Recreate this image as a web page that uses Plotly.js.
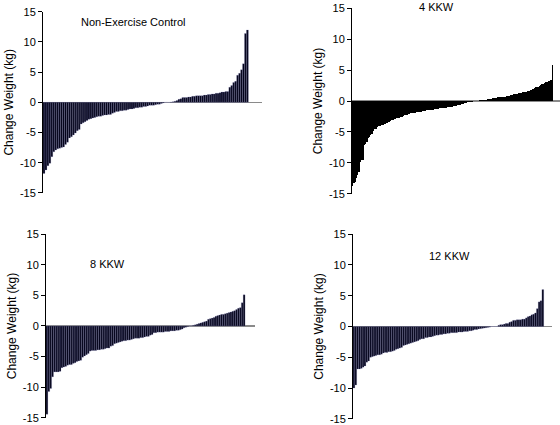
<!DOCTYPE html>
<html>
<head>
<meta charset="utf-8">
<script src="https://cdn.plot.ly/plotly-3.0.1.min.js"></script>
<style>html,body{margin:0;padding:0;background:#fff}#chart{width:560px;height:425px}</style>
</head>
<body>
<div id="chart"></div>
<script>
// Panel titles
const panelTitles = ["Non-Exercise Control", "4 KKW", "8 KKW", "12 KKW"];
const yAxisTitle = "Change Weight (kg)";
const yTickVals = [-15, -10, -5, 0, 5, 10, 15];
const yTickText = ["-15", "-10", "-5", "0", "5", "10", "15"];

// Individual weight change (kg), sorted, per group
const controlChange = [
  -11.8, -11.2, -10.5, -10.1, -9.0, -8.2, -7.9, -7.7, -7.6, -7.5, -7.4, -7.0, -6.6, -5.9, -5.7,
  -5.4, -5.1, -4.7, -4.5, -3.6, -3.4, -3.2, -3.0, -2.8, -2.7, -2.6, -2.5, -2.4, -2.3, -2.3,
  -2.2, -2.1, -2.1, -2.0, -2.0, -1.8, -1.7, -1.5, -1.5, -1.4, -1.4, -1.3, -1.3, -1.2, -1.1,
  -1.1, -1.0, -0.9, -0.9, -0.8, -0.8, -0.7, -0.7, -0.6, -0.5, -0.5, -0.5, -0.4, -0.3, -0.3,
  -0.2, -0.1, 0, 0, 0, 0.05, 0.1, 0.2, 0.3, 0.5, 0.6, 0.8, 0.8, 0.8, 0.9, 0.9, 1.0, 1.0,
  1.1, 1.1, 1.1, 1.1, 1.2, 1.2, 1.3, 1.3, 1.4, 1.4, 1.5, 1.5, 1.6, 1.7, 1.7, 1.8, 1.8,
  2.5, 2.8, 3.3, 3.5, 4.5, 4.8, 5.4, 6.4, 11.4, 12.0
];
const kkw4Change = [
  -13.8, -13.3, -13.0, -12.4, -12.0, -11.4, -9.8, -9.6, -9.5, -7.1, -6.9, -6.6, -6.0, -5.8,
  -5.5, -5.3, -4.8, -4.6, -4.5, -4.2, -4.1, -4.0, -3.9, -3.9, -3.8, -3.7, -3.6, -3.5, -3.4,
  -3.3, -3.1, -3.0, -2.9, -2.9, -2.8, -2.8, -2.7, -2.6, -2.6, -2.5, -2.3, -2.2, -2.2, -2.1,
  -2.1, -2.0, -2.0, -2.0, -1.9, -1.8, -1.8, -1.7, -1.7, -1.7, -1.6, -1.6, -1.6, -1.5, -1.5,
  -1.5, -1.4, -1.4, -1.4, -1.3, -1.3, -1.3, -1.3, -1.2, -1.2, -1.2, -1.2, -1.1, -1.1, -1.0,
  -1.0, -0.9, -0.9, -0.9, -0.8, -0.8, -0.8, -0.7, -0.7, -0.6, -0.5, -0.5, -0.4, -0.4, -0.3,
  -0.2, -0.2, -0.1, -0.1, 0, 0, 0, 0, 0, 0.1, 0.1, 0.2, 0.2, 0.2, 0.2, 0.3, 0.3, 0.3, 0.4,
  0.5, 0.5, 0.5, 0.5, 0.6, 0.6, 0.6, 0.6, 0.7, 0.7, 0.7, 0.8, 0.8, 0.8, 0.9, 1.0, 1.1, 1.2,
  1.2, 1.2, 1.3, 1.3, 1.3, 1.4, 1.4, 1.5, 1.5, 1.6, 1.6, 1.7, 1.8, 1.9, 2.1, 2.2, 2.3, 2.3,
  2.5, 2.6, 2.7, 2.8, 2.9, 3.0, 3.1, 3.2, 3.3, 3.4, 5.8
];
const kkw8Change = [
  -14.4, -10.7, -10.2, -8.3, -7.5, -7.5, -7.5, -7.4, -6.8, -6.7, -6.6, -6.4, -6.3, -6.3,
  -6.1, -6.0, -5.8, -5.7, -5.6, -5.1, -4.9, -4.7, -4.5, -4.1, -4.0, -4.0, -4.0, -3.9, -3.9,
  -3.8, -3.8, -3.7, -3.6, -3.6, -3.3, -3.2, -2.9, -2.8, -2.7, -2.6, -2.5, -2.4, -2.4, -2.3,
  -2.3, -2.2, -2.1, -2.0, -2.0, -2.0, -1.9, -1.9, -1.8, -1.7, -1.7, -1.5, -1.4, -1.1, -1.1,
  -1.0, -1.0, -1.0, -1.0, -0.9, -0.9, -0.9, -0.8, -0.8, -0.8, -0.7, -0.7, -0.6, -0.5, -0.3,
  -0.2, -0.1, 0, 0, 0.1, 0.2, 0.3, 0.4, 0.5, 0.6, 0.7, 0.8, 1.1, 1.2, 1.3, 1.4, 1.6, 1.7,
  1.8, 1.9, 1.9, 2.0, 2.1, 2.2, 2.3, 2.4, 2.5, 2.7, 2.9, 3.0, 3.8, 5.1
];
const kkw12Change = [
  -10.0, -9.5, -6.9, -6.9, -6.8, -6.6, -6.4, -5.8, -5.6, -5.0, -4.9, -4.8, -4.7, -4.6, -4.6,
  -4.5, -4.3, -4.2, -4.2, -4.1, -4.1, -4.0, -3.9, -3.7, -3.6, -3.5, -3.4, -3.1, -3.0, -2.9,
  -2.8, -2.7, -2.6, -2.5, -2.4, -2.3, -2.1, -2.0, -2.0, -1.8, -1.8, -1.7, -1.7, -1.6, -1.5,
  -1.4, -1.4, -1.3, -1.3, -1.2, -1.2, -1.1, -1.1, -1.0, -1.0, -1.0, -1.0, -0.9, -0.9, -0.9,
  -0.8, -0.8, -0.8, -0.7, -0.7, -0.6, -0.5, -0.5, -0.4, -0.35, -0.3, -0.25, -0.2, -0.15,
  -0.1, 0, 0, 0, 0, 0.2, 0.3, 0.3, 0.4, 0.5, 0.5, 0.7, 0.8, 1.0, 1.0, 1.1, 1.1, 1.1, 1.2,
  1.2, 1.4, 1.6, 1.7, 1.9, 2.0, 2.2, 2.9, 4.0, 4.2, 6.0
];

const groups = [controlChange, kkw4Change, kkw8Change, kkw12Change];
const fills = ["#05051a", "#000000", "#05051a", "#05051a"];
const edges = ["#8a8ac8", "#000000", "#8a8ac8", "#8a8ac8"];
const edgeW = [0.22, 0, 0.22, 0.22];
const xPad = [7.0, 5.4, 5.3, 4.5];

const xDomains = [[0.0768, 0.468], [0.6286, 1.0], [0.0821, 0.4554], [0.6304, 0.9857]];
const yDomains = [[0.5459, 0.9725], [0.5435, 0.9812], [0.0165, 0.4494], [0.0141, 0.4494]];
const titlePos = [[133, 22], [436, 7], [107, 264], [449, 256]];

const font = "Liberation Sans, Arial, sans-serif";
const traces = [];
const layout = {
  width: 560, height: 425,
  margin: {l: 0, r: 0, t: 0, b: 0},
  paper_bgcolor: "#fff", plot_bgcolor: "rgba(0,0,0,0)",
  showlegend: false, bargap: 0,
  font: {family: font, size: 11, color: "#000"},
  annotations: []
};

groups.forEach((vals, i) => {
  const k = i === 0 ? "" : String(i + 1);
  traces.push({
    type: "bar",
    x: vals.map((_, j) => j),
    y: vals,
    xaxis: "x" + k, yaxis: "y" + k,
    marker: {color: fills[i], line: {color: edges[i], width: edgeW[i]}},
    hoverinfo: "y"
  });
  layout["xaxis" + k] = {
    domain: xDomains[i], anchor: "y" + k,
    range: [-0.5, vals.length - 0.5 + xPad[i]],
    showline: false, showgrid: false, zeroline: false, showticklabels: false, ticks: ""
  };
  layout["yaxis" + k] = {
    domain: yDomains[i], anchor: "x" + k,
    range: [-15.02, 15.02],
    tickvals: yTickVals, ticktext: yTickText,
    ticks: "outside", ticklen: 4, tickcolor: "#000", tickwidth: 1,
    showline: true, linecolor: "#000", linewidth: 1,
    showgrid: false,
    zeroline: true, zerolinecolor: "#8a8a8a", zerolinewidth: 1.5,
    tickfont: {family: font, size: 11, color: "#000"},
    title: {text: yAxisTitle, font: {family: font, size: 12, color: "#000"}, standoff: 3}
  };
  layout.annotations.push({
    text: panelTitles[i], xref: "paper", yref: "paper",
    x: titlePos[i][0] / 560, y: 1 - titlePos[i][1] / 425,
    xanchor: "center", yanchor: "middle", showarrow: false,
    font: {family: font, size: 11, color: "#000"}
  });
});

Plotly.newPlot("chart", traces, layout, {displayModeBar: false, staticPlot: true});
</script>
</body>
</html>
